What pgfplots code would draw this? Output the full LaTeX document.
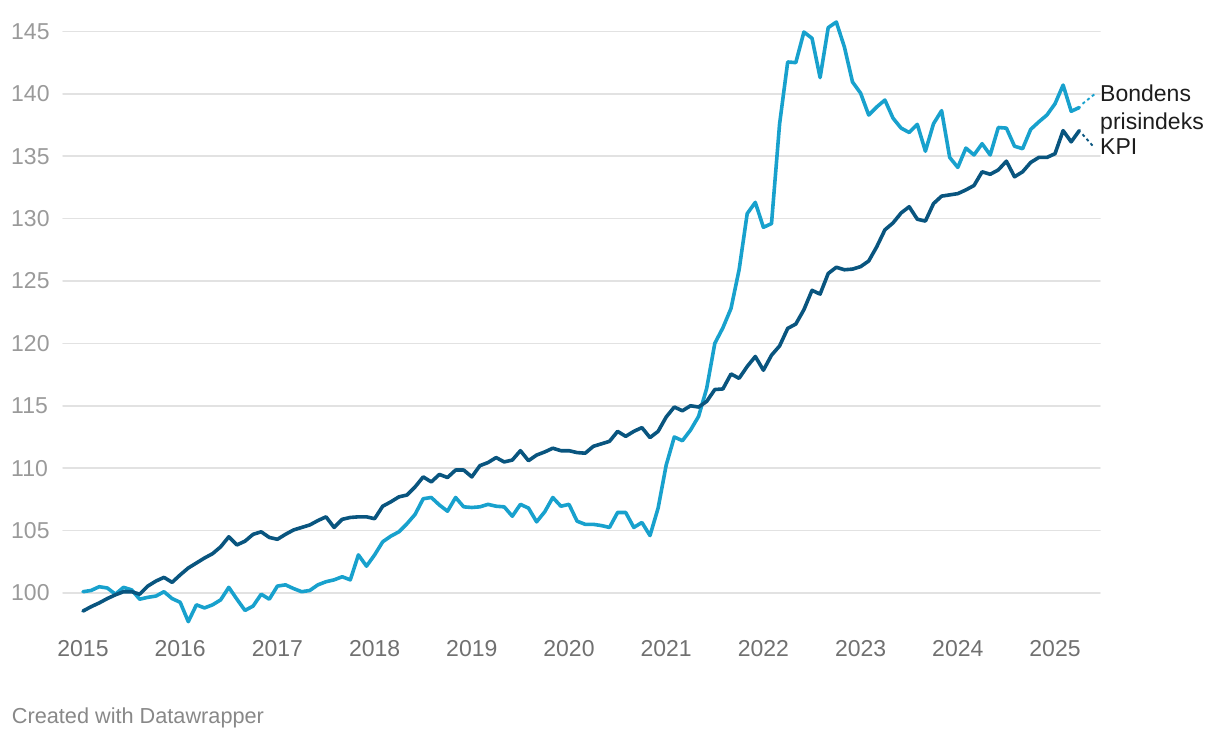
\documentclass[border=0pt]{standalone}
\usepackage{fontspec}
\setmainfont{Liberation Sans}
\usepackage{pgfplots}
\usepackage{pgfplotstable}
\pgfplotsset{compat=1.18}

\definecolor{bonde}{HTML}{18A1CD}
\definecolor{kpi}{HTML}{09557F}
\definecolor{gridc}{HTML}{E2E2E2}
\definecolor{ylab}{HTML}{9A9A9A}
\definecolor{xlab}{HTML}{707070}
\definecolor{foot}{HTML}{888888}
\definecolor{lab}{HTML}{1D1D1D}

% month index (0 = jan 2015), Bondens prisindeks, KPI
\pgfplotstableread{
m   bonde   kpi
0   100.10  98.55
1   100.20  98.90
2   100.50  99.20
3   100.40  99.55
4   99.90   99.85
5   100.45  100.10
6   100.25  100.10
7   99.50   99.90
8   99.65   100.55
9   99.75   100.95
10  100.10  101.25
11  99.55   100.85
12  99.25   101.45
13  97.70   102.00
14  99.05   102.40
15  98.80   102.80
16  99.05   103.15
17  99.45   103.70
18  100.45  104.50
19  99.50   103.85
20  98.60   104.15
21  98.95   104.70
22  99.90   104.90
23  99.50   104.45
24  100.55  104.30
25  100.65  104.70
26  100.35  105.05
27  100.10  105.25
28  100.20  105.45
29  100.65  105.80
30  100.90  106.10
31  101.05  105.25
32  101.30  105.90
33  101.05  106.05
34  103.05  106.10
35  102.15  106.10
36  103.05  105.95
37  104.10  106.95
38  104.55  107.30
39  104.90  107.70
40  105.55  107.85
41  106.30  108.50
42  107.55  109.30
43  107.65  108.90
44  107.05  109.50
45  106.55  109.25
46  107.65  109.85
47  106.90  109.85
48  106.85  109.30
49  106.90  110.20
50  107.10  110.45
51  106.95  110.85
52  106.90  110.50
53  106.15  110.65
54  107.10  111.40
55  106.80  110.60
56  105.70  111.05
57  106.50  111.30
58  107.65  111.60
59  106.95  111.40
60  107.10  111.40
61  105.75  111.25
62  105.50  111.20
63  105.50  111.75
64  105.40  111.95
65  105.25  112.15
66  106.45  112.95
67  106.45  112.55
68  105.25  112.95
69  105.65  113.25
70  104.60  112.45
71  106.80  112.95
72  110.25  114.10
73  112.50  114.90
74  112.20  114.60
75  113.05  115.00
76  114.15  114.90
77  116.40  115.35
78  120.00  116.30
79  121.25  116.35
80  122.80  117.55
81  125.90  117.20
82  130.40  118.15
83  131.30  118.95
84  129.30  117.85
85  129.60  119.05
86  137.60  119.80
87  142.55  121.20
88  142.50  121.55
89  144.95  122.70
90  144.45  124.25
91  141.30  123.95
92  145.30  125.60
93  145.75  126.10
94  143.75  125.90
95  140.95  125.95
96  140.05  126.15
97  138.30  126.60
98  138.95  127.75
99  139.50  129.10
100 138.05  129.65
101 137.25  130.45
102 136.90  130.95
103 137.55  129.95
104 135.40  129.80
105 137.60  131.20
106 138.65  131.80
107 134.90  131.90
108 134.10  132.00
109 135.65  132.30
110 135.10  132.65
111 136.00  133.75
112 135.10  133.55
113 137.30  133.90
114 137.25  134.60
115 135.80  133.35
116 135.60  133.75
117 137.15  134.50
118 137.75  134.90
119 138.30  134.90
120 139.20  135.20
121 140.70  137.05
122 138.60  136.15
123 138.90  137.05
}\data

\begin{document}
\begin{tikzpicture}
\begin{axis}[
    at={(63pt,107.6pt)}, anchor=south west,
    scale only axis,
    width=1037pt, height=617.7pt,
    xmin=-2.469, xmax=125.556,
    ymin=97, ymax=146.5,
    axis line style={draw=none},
    tick style={draw=none},
    major tick length=0pt,
    ytick={100,105,...,145},
    xtick={0,12,...,120},
    xticklabels={2015,2016,2017,2018,2019,2020,2021,2022,2023,2024,2025},
    ymajorgrids=true,
    major grid style={color=gridc, line width=1.5pt},
    /pgf/number format/assume math mode=true,
    yticklabel style={anchor=west, inner sep=0pt, xshift=-52pt,
        font=\fontsize{23}{23}\selectfont, text=ylab},
    xticklabel style={anchor=north, inner sep=0pt, yshift=-9.6pt,
        font=\fontsize{23}{23}\selectfont, text=xlab},
    clip=false,
    line join=round, line cap=round,
]
\addplot[bonde, line width=3.6pt] table[x=m, y=bonde] {\data};
\addplot[kpi, line width=3.6pt] table[x=m, y=kpi] {\data};

\addplot[bonde, line width=1.9pt, dash pattern=on 3pt off 3pt, line cap=butt]
    coordinates {(123.4,139.2) (125.06,140.06)};
\addplot[kpi, line width=1.9pt, dash pattern=on 3pt off 3pt, line cap=butt]
    coordinates {(123.4,136.75) (124.7,135.8)};

\node[anchor=base west, inner sep=0pt, text=lab, font=\fontsize{23}{23}\selectfont]
    at (axis cs:125.56,139.37) {Bondens};
\node[anchor=base west, inner sep=0pt, text=lab, font=\fontsize{23}{23}\selectfont]
    at (axis cs:125.56,137.16) {prisindeks};
\node[anchor=base west, inner sep=0pt, text=lab, font=\fontsize{23}{23}\selectfont]
    at (axis cs:125.56,135.15) {KPI};
\end{axis}

\node[anchor=base west, inner sep=0pt, text=foot, font=\fontsize{21.7}{21.7}\selectfont]
    at (11.7pt,14.7pt) {Created with Datawrapper};

\pgfresetboundingbox
\path[use as bounding box] (0pt,0pt) rectangle (1220pt,738pt);
\end{tikzpicture}
\end{document}
